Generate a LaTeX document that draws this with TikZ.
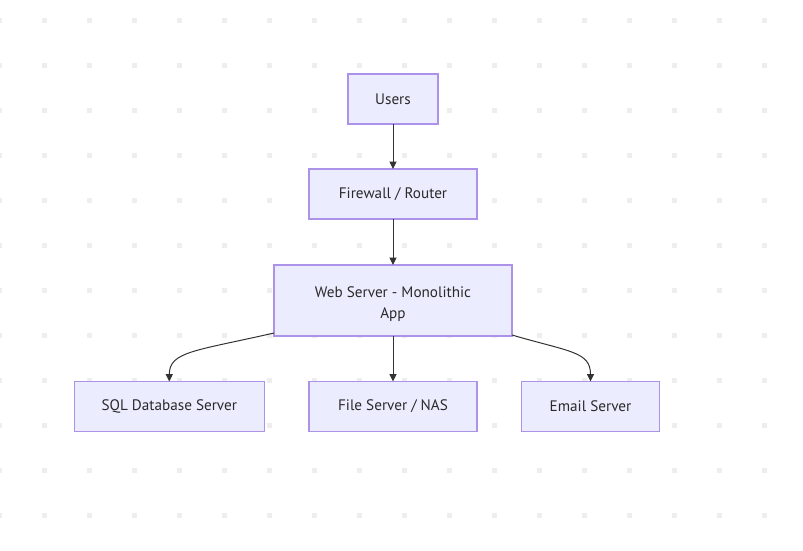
\documentclass[tikz,border=0pt]{standalone}
\usepackage{fontspec}
\setmainfont{PT Sans}
\usetikzlibrary{arrows.meta}
\definecolor{nodefill}{HTML}{ECECFF}
\definecolor{nodeline}{HTML}{AC92E8}
\definecolor{edgecol}{HTML}{333333}
\definecolor{dotcol}{HTML}{EEEEEE}
\definecolor{textcol}{HTML}{2A2A2A}
\tikzset{
  box/.style={draw=nodeline, fill=nodefill, line width=1.1pt, inner sep=0pt, outer sep=0pt,
    minimum height=37.5pt, text=textcol, align=center,
    font=\fontsize{11.4pt}{15.75pt}\selectfont},
  link/.style={draw=edgecol, line width=0.75pt, -{Triangle[length=5.5pt,width=5.2pt]}}
}
\begin{document}
\begin{tikzpicture}[x=0.75pt,y=-0.75pt]
\useasboundingbox (0,0) rectangle (803,550);
\fill[white] (0,0) rectangle (803,550);
% dot grid
\foreach \i in {0,...,17}{
  \foreach \j in {0,...,11}{
    \fill[dotcol] ({-3.2+45*\i},{17.8+45*\j}) rectangle +(5,5);
  }
}
\node[box, minimum width=67.5pt] (users) at (393,99) {Users};
\node[box, minimum width=126pt] (fw) at (393,194) {Firewall / Router};
\node[box, minimum width=178.5pt, minimum height=53.25pt, text depth=0pt] (web) at (393,300.5) {\raisebox{4.8pt}{\parbox{170pt}{\centering Web Server - Monolithic\\App}}};
\node[box, minimum width=142.5pt] (sql) at (169.3,406.5) {SQL Database Server};
\node[box, minimum width=126pt] (file) at (393,406.5) {File Server / NAS};
\node[box, minimum width=103.2pt] (email) at (590.5,406.5) {Email Server};
\draw[link] (users.south) -- (fw.north);
\draw[link] (fw.south) -- (web.north);
\draw[link] (web.south) -- (file.north);
\draw[link] ([yshift=2.25pt]web.south west) .. controls +(-79,18) and +(0,-30) .. (sql.north);
\draw[link] ([yshift=0.75pt]web.south east) .. controls +(58,17) and +(0,-30) .. (email.north);
\end{tikzpicture}
\end{document}
